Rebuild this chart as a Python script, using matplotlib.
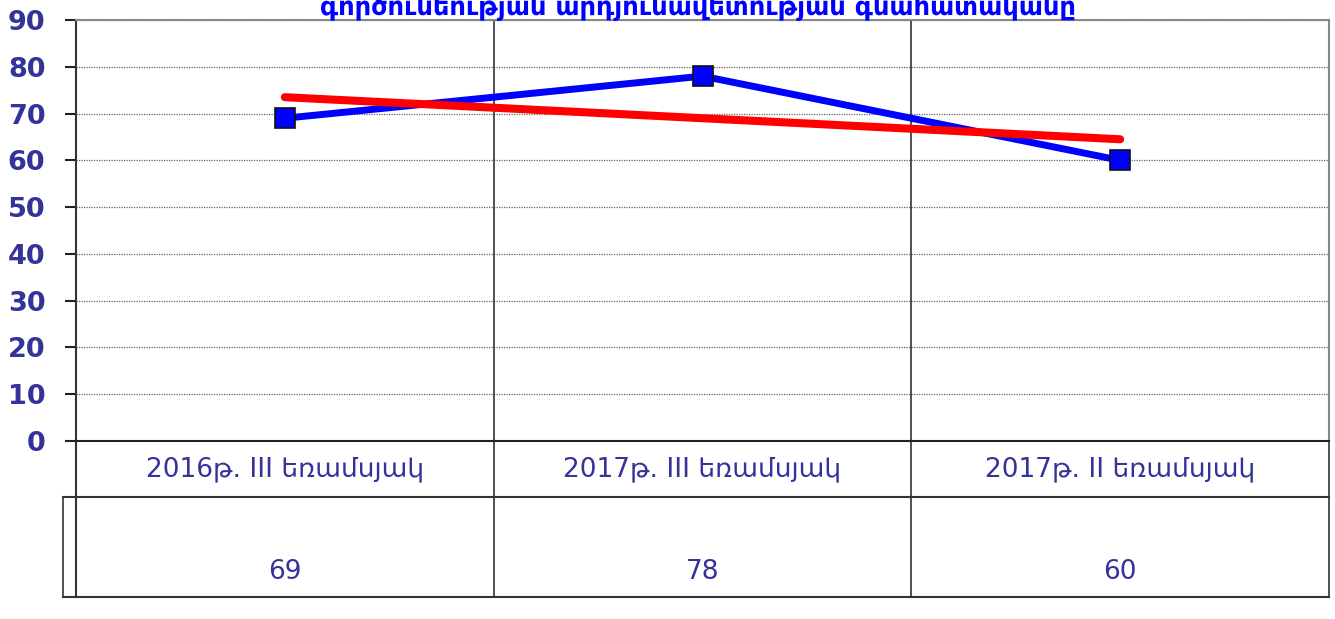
import numpy as np
import matplotlib.pyplot as plt

# data
categories = ["2016թ. III եռամսյակ", "2017թ. III եռամսյակ", "2017թ. II եռամսյակ"]
values = [69, 78, 60]
yticks = list(range(0, 91, 10))
title = "գործունեության արդյունավետության գնահատականը"

navy = "#333399"
x = np.arange(len(values))

# linear trend line, like the spreadsheet's
slope, icpt = np.polyfit(x, values, 1)
trend = slope * x + icpt

fig = plt.figure(figsize=(13.35, 6.19), dpi=100)
ax = fig.add_axes([76 / 1335, 1 - 441 / 619, 1253 / 1335, 421 / 619])

ax.plot(x, values, color="#0000ff", lw=5, zorder=3)
ax.plot([x[0], x[-1]], [trend[0], trend[-1]], color="#ff0000", lw=5.8,
        solid_capstyle="round", zorder=4)
ax.plot(x, values, ls="none", marker="s", ms=14, mfc="#0000ff", mec="#111111",
        mew=1.2, zorder=5)

ax.set_xlim(-0.5, len(values) - 0.5)
ax.set_ylim(0, 90)
ax.set_yticks(yticks)
ax.set_yticklabels([str(t) for t in yticks], fontsize=19.5, fontweight="bold", color=navy)
ax.tick_params(axis="y", direction="out", length=8, width=1.5, color="#222222", pad=14)
ax.set_xticks([])
ax.yaxis.grid(True, ls=(0, (1, 1)), color="#666666", lw=0.9)
ax.set_axisbelow(True)

for side in ["top", "right"]:
    ax.spines[side].set_color("#888888")
    ax.spines[side].set_linewidth(1.5)
ax.spines["left"].set_color("#333333")
ax.spines["left"].set_linewidth(1.5)
ax.spines["bottom"].set_color("#222222")
ax.spines["bottom"].set_linewidth(1.5)

# data table under the plot
tr = ax.transAxes
row1 = -56 / 421
row2 = -156 / 421
lc = "#333333"
for b in [0.5, 1.5]:
    ax.plot([b, b], [90, 90 - 90 * (156 / 421) - 90], color=lc, lw=1.2, clip_on=False, zorder=2)
ax.plot([0, 0], [0, row2], transform=tr, color=lc, lw=1.5, clip_on=False)
ax.plot([1, 1], [0, row2], transform=tr, color=lc, lw=1.2, clip_on=False)
ax.plot([-0.0104, 1], [row1, row1], transform=tr, color=lc, lw=1.5, clip_on=False)
ax.plot([-0.0104, 1], [row2, row2], transform=tr, color=lc, lw=1.5, clip_on=False)
ax.plot([-0.0104, -0.0104], [row1, row2], transform=tr, color=lc, lw=1.2, clip_on=False)

for i, (c, v) in enumerate(zip(categories, values)):
    xa = (i + 0.5) / len(values)
    ax.text(xa, row1 / 2, c, transform=tr, ha="center", va="center",
            fontsize=19, color=navy)
    ax.text(xa, -131 / 421, str(v), transform=tr, ha="center", va="center",
            fontsize=19, color=navy)

# title, cut off at top as in the source image
fig.text(698 / 1335, 1 - 14 / 619, title, ha="center", va="baseline",
         fontsize=18.5, fontweight="bold", color="#0000ff")

fig.savefig("out.png", dpi=100)
